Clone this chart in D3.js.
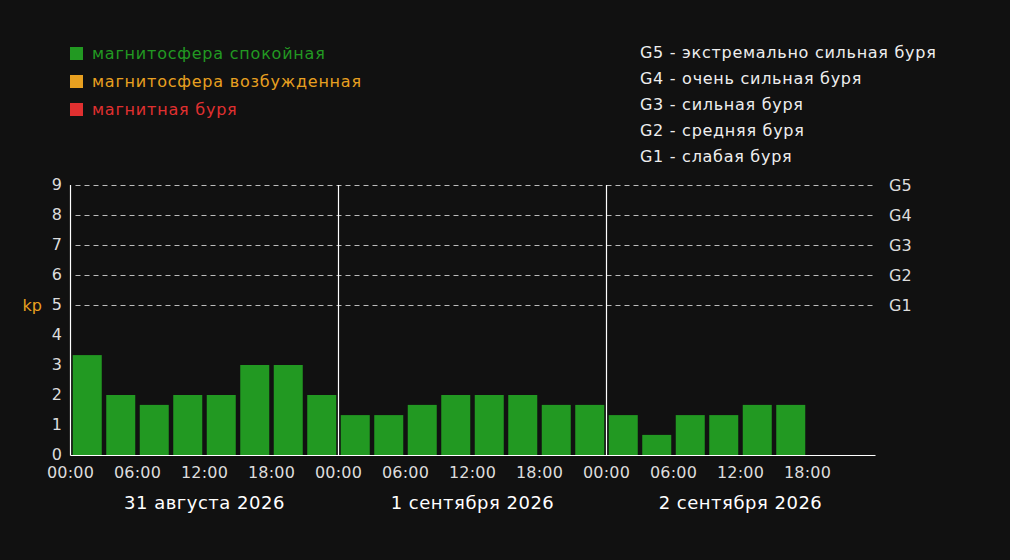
<!DOCTYPE html>
<html>
<head>
<meta charset="utf-8">
<script src="https://cdn.jsdelivr.net/npm/d3@7"></script>
<style>
html,body{margin:0;padding:0;background:#111111;}
svg{display:block;font-family:"DejaVu Sans",sans-serif;}
</style>
</head>
<body>
<svg id="chart" width="1010" height="560"></svg>
<script>
const days = ["31 августа 2026", "1 сентября 2026", "2 сентября 2026"];
const dayStarts = ["2026-08-31", "2026-09-01", "2026-09-02"];
const slotHours = [0, 3, 6, 9, 12, 15, 18, 21];
const kpDay1 = [3.33, 2, 1.67, 2, 2, 3, 3, 2];
const kpDay2 = [1.33, 1.33, 1.67, 2, 2, 2, 1.67, 1.67];
const kpDay3 = [1.33, 0.67, 1.33, 1.33, 1.67, 1.67, null, null];
const yTicks = [0, 1, 2, 3, 4, 5, 6, 7, 8, 9];
const gLevels = [5, 6, 7, 8, 9];
const gLabels = ["G1", "G2", "G3", "G4", "G5"];
const xTickLabels = ["00:00", "06:00", "12:00", "18:00"];
const legendItems = ["магнитосфера спокойная", "магнитосфера возбужденная", "магнитная буря"];
const legendColors = ["#229922", "#e8a020", "#e03030"];
const gDescriptions = ["G5 - экстремально сильная буря", "G4 - очень сильная буря", "G3 - сильная буря", "G2 - средняя буря", "G1 - слабая буря"];

const svg = d3.select("#chart");
const mLeft = 70.5, mRight = 874.5, mTop = 185, mBottom = 455;

const allKp = [kpDay1, kpDay2, kpDay3];
const data = [];
allKp.forEach((arr, di) => arr.forEach((v, si) => data.push({day: di, slot: si, key: di + "-" + si, v})));

const x = d3.scaleBand().domain(data.map(d => d.key)).range([mLeft, mRight]).paddingInner(0.134).paddingOuter(0.067);
const y = d3.scaleLinear().domain([0, 9]).range([mBottom, mTop]);
const parse = d3.utcParse("%Y-%m-%d");
const t0 = parse(dayStarts[0]);
const tEnd = d3.utcDay.offset(parse(dayStarts[2]), 1);
const xt = d3.scaleUtc().domain([t0, tEnd]).range([mLeft, mRight]);

// grid lines
svg.append("g").selectAll("line").data(yTicks.filter(d => d >= 5)).join("line")
  .attr("x1", mLeft + 5).attr("x2", mRight)
  .attr("y1", d => y(d) + 0.5).attr("y2", d => y(d) + 0.5)
  .attr("stroke", "#bbbbbb").attr("stroke-width", 1).attr("stroke-dasharray", "5,4");

// bars
svg.append("g").selectAll("rect").data(data.filter(d => d.v != null)).join("rect")
  .attr("x", d => x(d.key)).attr("width", x.bandwidth())
  .attr("y", d => y(d.v)).attr("height", d => y(0) - y(d.v))
  .attr("fill", "#229922");

// day separators
svg.append("g").selectAll("line").data(dayStarts.slice(1)).join("line")
  .attr("x1", d => Math.floor(xt(parse(d))) + 0.5).attr("x2", d => Math.floor(xt(parse(d))) + 0.5)
  .attr("y1", mTop).attr("y2", mBottom)
  .attr("stroke", "#ffffff").attr("stroke-width", 1.2);

// axes lines
svg.append("line").attr("x1", mLeft).attr("x2", mLeft).attr("y1", mTop).attr("y2", mBottom + 0.5)
  .attr("stroke", "#ffffff").attr("stroke-width", 1.2);
svg.append("line").attr("x1", mLeft).attr("x2", mRight + 1).attr("y1", mBottom + 0.5).attr("y2", mBottom + 0.5)
  .attr("stroke", "#ffffff").attr("stroke-width", 1.2);

// y tick labels
svg.append("g").selectAll("text").data(yTicks).join("text")
  .attr("x", 62).attr("y", d => y(d) - 0.5).attr("dy", "0.35em")
  .attr("text-anchor", "end").attr("fill", "#dddddd").attr("font-size", 16).text(d => d);

svg.append("text").attr("x", 42).attr("y", y(5)).attr("dy", "0.35em").attr("text-anchor", "end")
  .attr("fill", "#e8a020").attr("font-size", 16).text("kp");

// G labels right
svg.append("g").selectAll("text").data(gLevels).join("text")
  .attr("x", 889).attr("y", d => y(d)).attr("dy", "0.35em")
  .attr("fill", "#dddddd").attr("font-size", 16).text((d, i) => gLabels[i]);

// x tick labels
const ticks = [];
dayStarts.forEach(ds => slotHours.filter(h => h % 6 === 0).forEach((h, i) => ticks.push({t: d3.utcHour.offset(parse(ds), h), label: xTickLabels[i]})));
svg.append("g").selectAll("text").data(ticks).join("text")
  .attr("x", d => xt(d.t)).attr("y", 472).attr("dy", "0.35em").attr("text-anchor", "middle")
  .attr("fill", "#dddddd").attr("font-size", 16).attr("letter-spacing", 0.2).text(d => d.label);

// day labels
svg.append("g").selectAll("text").data(days).join("text")
  .attr("x", (d, i) => xt(d3.utcHour.offset(parse(dayStarts[i]), 12)))
  .attr("y", 503).attr("dy", "0.35em").attr("text-anchor", "middle")
  .attr("fill", "#ffffff").attr("font-size", 18).attr("letter-spacing", 0.5).text(d => d);

// legend left
const lg = svg.append("g");
legendItems.forEach((s, i) => {
  const cy = 53 + i * 28;
  lg.append("rect").attr("x", 70).attr("y", cy - 6).attr("width", 13).attr("height", 13).attr("fill", legendColors[i]);
  lg.append("text").attr("x", 92).attr("y", cy).attr("dy", "0.35em").attr("fill", legendColors[i]).attr("font-size", 16).attr("letter-spacing", 0.78).text(s);
});

// legend right
svg.append("g").selectAll("text").data(gDescriptions).join("text")
  .attr("x", 640).attr("y", (d, i) => 52 + i * 26).attr("dy", "0.35em")
  .attr("fill", "#eeeeee").attr("font-size", 16).attr("letter-spacing", 0.72).text(d => d);
</script>
</body>
</html>
